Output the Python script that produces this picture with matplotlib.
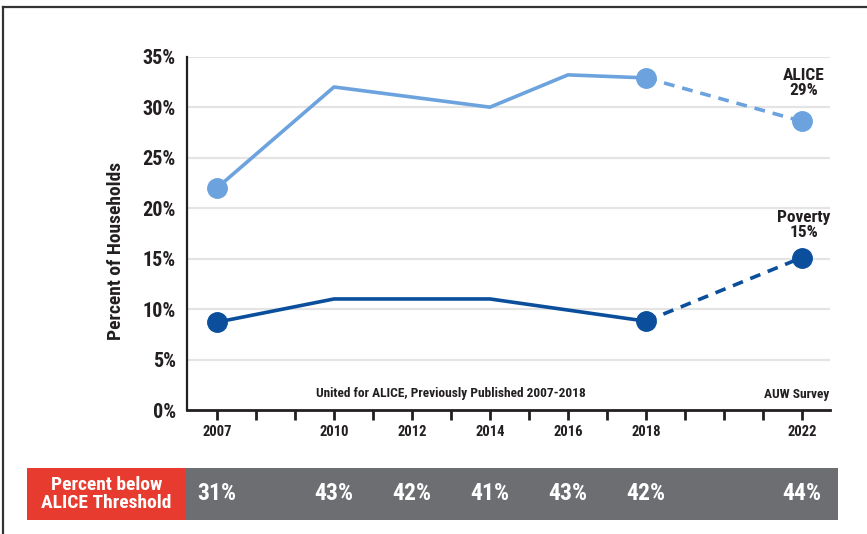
import matplotlib
matplotlib.use("Agg")
import matplotlib.pyplot as plt
from matplotlib.patches import Rectangle
from matplotlib.lines import Line2D
from matplotlib.transforms import blended_transform_factory

plt.rcParams['font.family'] = ['Roboto Condensed', 'Liberation Sans Narrow', 'Roboto', 'DejaVu Sans']
plt.rcParams['font.weight'] = 'bold'

# ---- data ----
years_hist = [2007, 2010, 2012, 2014, 2016, 2018]
alice_hist = [22.0, 32.0, 31.0, 30.0, 33.2, 32.9]
poverty_hist = [8.7, 11.0, 11.0, 11.0, 9.9, 8.8]
year_survey = 2022
alice_survey = 28.6
poverty_survey = 15.1
marker_years = [2007, 2018]
alice_markers = [22.0, 32.9]
poverty_markers = [8.7, 8.8]

tick_label_years = [2007, 2010, 2012, 2014, 2016, 2018, 2022]
yticks = [0, 5, 10, 15, 20, 25, 30, 35]
ytick_labels = ['0%', '5%', '10%', '15%', '20%', '25%', '30%', '35%']

below_years = [2007, 2010, 2012, 2014, 2016, 2018, 2022]
below_labels = ['31%', '43%', '42%', '41%', '43%', '42%', '44%']

alice_color = '#6CA3DE'
poverty_color = '#0B4F9C'
text_color = '#231F20'

W, H = 867, 534
fig = plt.figure(figsize=(W / 100, H / 100), dpi=100)
ax = fig.add_axes([187 / W, 1 - 410 / H, (830 - 187) / W, (410 - 56.7) / H])

ax.set_xlim(2006.23, 2022.72)
ax.set_ylim(0, 35)

# gridlines
for v in yticks[1:]:
    ax.axhline(v, color='#E4E4E4', lw=1.6, zorder=0)

# ALICE
ax.plot(years_hist, alice_hist, color=alice_color, lw=2.6, zorder=3)
ax.plot([years_hist[-1], year_survey], [alice_hist[-1], alice_survey], color=alice_color,
        lw=2.6, ls=(0, (3, 2.2)), zorder=3)
ax.plot(marker_years + [year_survey], alice_markers + [alice_survey], ls='none', marker='o',
        ms=14, color=alice_color, zorder=4)

# Poverty
ax.plot(years_hist, poverty_hist, color=poverty_color, lw=2.6, zorder=3)
ax.plot([years_hist[-1], year_survey], [poverty_hist[-1], poverty_survey], color=poverty_color,
        lw=2.6, ls=(0, (3, 2.2)), zorder=3)
ax.plot(marker_years + [year_survey], poverty_markers + [poverty_survey], ls='none', marker='o',
        ms=14, color=poverty_color, zorder=4)

# axes styling
for s in ['top', 'right']:
    ax.spines[s].set_visible(False)
ax.spines['left'].set_color(text_color)
ax.spines['bottom'].set_color(text_color)
ax.spines['left'].set_linewidth(1.6)
ax.spines['bottom'].set_linewidth(2.0)
ax.set_yticks(yticks)
ax.set_yticklabels(ytick_labels, fontsize=14.5, fontweight='bold', color=text_color)
ax.tick_params(axis='y', length=0, pad=8)
ax.set_xticks(list(range(2007, 2023)))
ax.set_xticklabels([str(y) if y in tick_label_years else '' for y in range(2007, 2023)],
                   fontsize=10.5, fontweight='bold', color=text_color)
ax.tick_params(axis='x', length=7, width=2, color=text_color, pad=4, direction='out')
ax.set_ylabel('Percent of Households', fontsize=14, fontweight='bold', color=text_color)
ax.yaxis.set_label_coords(-0.097, 0.45)

# annotations
ax.text(2013.0, 1.0, 'United for ALICE, Previously Published 2007-2018', ha='center',
        va='bottom', fontsize=9.6, fontweight='bold', color=text_color)
ax.text(2021.87, 0.9, 'AUW Survey', ha='center', va='bottom', fontsize=9.6, fontweight='bold',
        color=text_color)
ax.text(year_survey + 0.05, alice_survey + 2.3, 'ALICE\n29%', ha='center', va='bottom',
        fontsize=12.5, fontweight='bold', color=text_color, linespacing=1.0)
ax.text(year_survey + 0.05, poverty_survey + 1.7, 'Poverty\n15%', ha='center', va='bottom',
        fontsize=12.5, fontweight='bold', color=text_color, linespacing=1.0)

# bottom band
band_y0 = 1 - 520 / H
band_h = (520 - 468) / H
fig.add_artist(Rectangle((27 / W, band_y0), (186 - 27) / W, band_h, transform=fig.transFigure,
                         facecolor='#E63B2E', edgecolor='none'))
fig.add_artist(Rectangle((186 / W, band_y0), (838 - 186) / W, band_h, transform=fig.transFigure,
                         facecolor='#6D6E71', edgecolor='none'))
fig.text((27 + 186) / 2 / W, band_y0 + band_h / 2, 'Percent below\nALICE Threshold', ha='center',
         va='center', color='white', fontsize=14, fontweight='bold', linespacing=1.0)
trans = blended_transform_factory(ax.transData, fig.transFigure)
for yr, lab in zip(below_years, below_labels):
    fig.text(yr, band_y0 + band_h / 2, lab, transform=trans, ha='center', va='center',
             color='white', fontsize=17, fontweight='bold')

# outer frame (top and left)
fig.add_artist(Line2D([3.5 / W, 3.5 / W], [0, 1 - 7 / H], transform=fig.transFigure,
                      color='#333333', lw=1.6))
fig.add_artist(Line2D([3.5 / W, 1], [1 - 7 / H, 1 - 7 / H], transform=fig.transFigure,
                      color='#333333', lw=1.6))

fig.savefig('out.png', dpi=100, facecolor='white')
